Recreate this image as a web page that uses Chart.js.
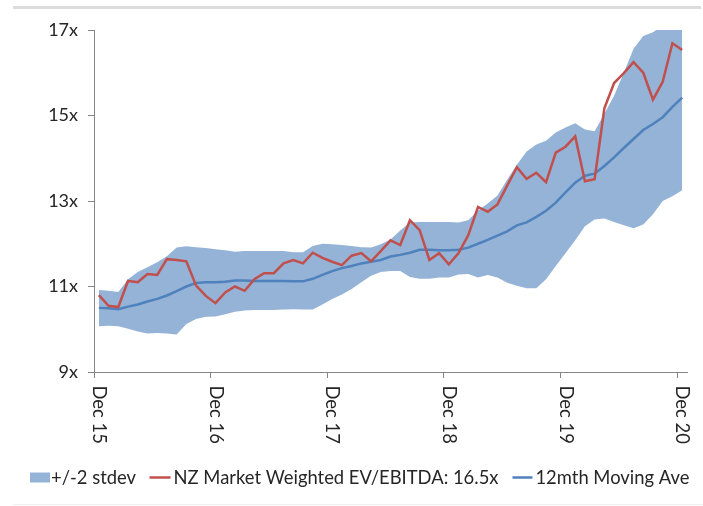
<!DOCTYPE html>
<html><head><meta charset="utf-8">
<script src="https://cdn.jsdelivr.net/npm/chart.js@4.4.1/dist/chart.umd.min.js"></script>
<style>
html,body{margin:0;padding:0;background:#fff;}
#wrap{position:relative;width:703px;height:506px;overflow:hidden;}
#topRule{position:absolute;left:13px;top:6px;width:688px;height:3px;background:#dcdcdc;}
#botRule{position:absolute;left:13px;top:504px;width:690px;height:1px;background:#efefef;}
canvas{position:absolute;left:0;top:0;}
</style></head><body>
<div id="wrap"><div id="topRule"></div><div id="botRule"></div><canvas id="c" width="703" height="506"></canvas></div>
<script>
// ---- data ----
const months = [
  'Dec 15',
  'Jan 16','Feb 16','Mar 16','Apr 16','May 16','Jun 16','Jul 16','Aug 16','Sep 16','Oct 16','Nov 16','Dec 16',
  'Jan 17','Feb 17','Mar 17','Apr 17','May 17','Jun 17','Jul 17','Aug 17','Sep 17','Oct 17','Nov 17','Dec 17',
  'Jan 18','Feb 18','Mar 18','Apr 18','May 18','Jun 18','Jul 18','Aug 18','Sep 18','Oct 18','Nov 18','Dec 18',
  'Jan 19','Feb 19','Mar 19','Apr 19','May 19','Jun 19','Jul 19','Aug 19','Sep 19','Oct 19','Nov 19','Dec 19',
  'Jan 20','Feb 20','Mar 20','Apr 20','May 20','Jun 20','Jul 20','Aug 20','Sep 20','Oct 20','Nov 20','Dec 20'
];
const tickLabels = ['Dec 15','Dec 16','Dec 17','Dec 18','Dec 19','Dec 20'];

const evEbitda = [
  10.80,
  10.55,10.52,11.13,11.10,11.29,11.27,11.64,11.62,11.59,11.02,10.78,10.61,
  10.86,11.00,10.90,11.17,11.31,11.31,11.54,11.62,11.54,11.79,11.67,11.58,
  11.50,11.72,11.78,11.59,11.83,12.08,11.97,12.55,12.32,11.62,11.78,11.52,
  11.78,12.20,12.86,12.75,12.92,13.36,13.79,13.52,13.66,13.44,14.13,14.27,
  14.51,13.46,13.51,15.17,15.76,15.99,16.25,16.00,15.37,15.79,16.69,16.53
];
const movingAve = [
  10.50,
  10.49,10.47,10.53,10.58,10.65,10.71,10.79,10.89,11.00,11.08,11.10,11.10,
  11.11,11.14,11.14,11.13,11.13,11.13,11.13,11.12,11.12,11.18,11.27,11.36,
  11.43,11.48,11.54,11.58,11.62,11.70,11.74,11.79,11.86,11.86,11.85,11.85,
  11.86,11.91,12.00,12.09,12.19,12.29,12.43,12.50,12.63,12.77,12.96,13.20,
  13.43,13.59,13.64,13.82,14.02,14.24,14.45,14.66,14.80,14.96,15.20,15.42
];
const bandUpper = [
  10.92,
  10.90,10.87,11.17,11.34,11.45,11.57,11.71,11.91,11.94,11.92,11.90,11.87,
  11.85,11.81,11.83,11.83,11.83,11.83,11.83,11.80,11.80,11.95,12.00,11.99,
  11.97,11.95,11.92,11.91,11.99,12.10,12.31,12.50,12.51,12.51,12.51,12.51,
  12.50,12.55,12.78,12.94,13.13,13.50,13.85,14.16,14.32,14.41,14.60,14.72,
  14.82,14.67,14.63,15.04,15.46,16.00,16.56,16.86,16.95,17.10,17.20,17.25
];
const bandLower = [
  10.07,
  10.08,10.07,10.01,9.95,9.90,9.91,9.90,9.88,10.12,10.24,10.29,10.30,
  10.35,10.41,10.44,10.45,10.45,10.45,10.46,10.47,10.46,10.46,10.58,10.71,
  10.81,10.94,11.10,11.25,11.34,11.36,11.36,11.22,11.18,11.18,11.21,11.21,
  11.28,11.29,11.21,11.27,11.21,11.09,11.02,10.96,10.96,11.17,11.48,11.78,
  12.08,12.41,12.57,12.59,12.51,12.43,12.36,12.45,12.69,13.00,13.11,13.25
];

const seriesNames = ['+/-2 stdev', 'NZ Market Weighted EV/EBITDA: 16.5x', '12mth Moving Ave'];
const colors = { band: '#95b3d7', red: '#c0504d', blue: '#4f81bd', axis: '#868686', text: '#262626' };
const FONT = 'Lato, "Liberation Sans", sans-serif';

const toXY = arr => arr.map((v, i) => ({ x: i, y: v }));
const tickPositions = tickLabels.map(l => months.indexOf(l) - 0.5);

const overlay = {
  id: 'overlay',
  afterDraw(chart) {
    const ctx = chart.ctx;
    const xs = chart.scales.x;
    ctx.save();
    ctx.fillStyle = colors.text;
    ctx.font = '18.4px ' + FONT;
    ctx.textAlign = 'left';
    ctx.textBaseline = 'alphabetic';
    tickLabels.forEach((lbl, k) => {
      const px = xs.getPixelForValue(tickPositions[k]);
      ctx.save();
      ctx.translate(px - 1, 385.5);
      ctx.rotate(Math.PI / 2);
      ctx.fillText(lbl, 0, 0);
      ctx.restore();
    });
    // legend
    const yMid = 477.5, yBase = 483.5;
    let x = 30;
    ctx.fillStyle = colors.band;
    ctx.fillRect(x, 472.5, 20, 10);
    x += 21;
    ctx.fillStyle = colors.text;
    ctx.fillText(seriesNames[0], x, yBase);
    x += ctx.measureText(seriesNames[0]).width + 13.5;
    ctx.strokeStyle = colors.red; ctx.lineWidth = 2.5;
    ctx.beginPath(); ctx.moveTo(x, yMid); ctx.lineTo(x + 21, yMid); ctx.stroke();
    x += 24;
    ctx.fillText(seriesNames[1], x, yBase);
    x += ctx.measureText(seriesNames[1]).width + 14;
    ctx.strokeStyle = colors.blue;
    ctx.beginPath(); ctx.moveTo(x, yMid); ctx.lineTo(x + 20, yMid); ctx.stroke();
    x += 23;
    ctx.fillText(seriesNames[2], x, yBase);
    ctx.restore();
  }
};

new Chart(document.getElementById('c'), {
  type: 'line',
  data: {
    datasets: [
      { label: seriesNames[1], data: toXY(evEbitda), borderColor: colors.red, borderWidth: 2.5,
        pointRadius: 0, fill: false, tension: 0, order: 0 },
      { label: seriesNames[2], data: toXY(movingAve), borderColor: colors.blue, borderWidth: 2.5,
        pointRadius: 0, fill: false, tension: 0, order: 1 },
      { label: seriesNames[0], data: toXY(bandUpper), borderWidth: 0, borderColor: 'rgba(0,0,0,0)',
        backgroundColor: colors.band, pointRadius: 0, fill: '+1', tension: 0, order: 2 },
      { label: '', data: toXY(bandLower), borderWidth: 0, borderColor: 'rgba(0,0,0,0)',
        backgroundColor: colors.band, pointRadius: 0, fill: false, tension: 0, order: 3 }
    ]
  },
  options: {
    responsive: false,
    animation: false,
    layout: { padding: { top: 30, left: 20, right: 16, bottom: 0 } },
    plugins: {
      legend: { display: false },
      tooltip: { enabled: false },
      filler: { drawTime: 'beforeDatasetsDraw' }
    },
    scales: {
      x: {
        type: 'linear',
        min: -0.5,
        max: months.length - 0.5,
        afterBuildTicks: s => { s.ticks = tickPositions.map(v => ({ value: v })); },
        afterFit: s => { s.height = 134; },
        ticks: { display: false },
        grid: { drawOnChartArea: false, drawTicks: true, tickLength: 6, color: colors.axis },
        border: { display: true, color: colors.axis, width: 1 }
      },
      y: {
        min: 9, max: 17,
        afterFit: s => { s.width = 74; },
        ticks: { stepSize: 2, padding: 10, color: colors.text,
                 font: { family: FONT, size: 18 }, callback: v => v + 'x' },
        grid: { drawOnChartArea: false, drawTicks: true, tickLength: 6, color: colors.axis },
        border: { display: true, color: colors.axis, width: 1 }
      }
    }
  },
  plugins: [overlay]
});
</script>
</body></html>
